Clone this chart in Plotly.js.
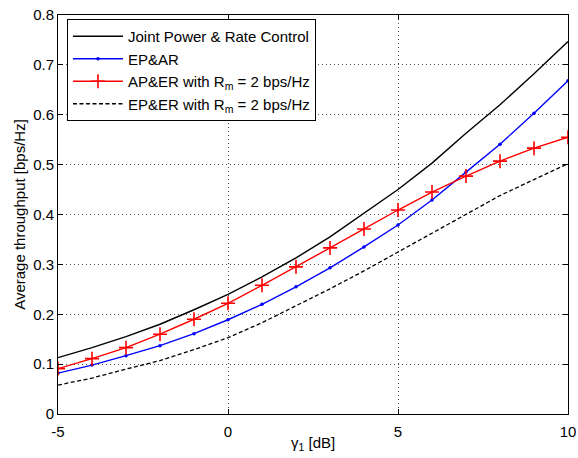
<!DOCTYPE html>
<html>
<head>
<meta charset="utf-8">
<script src="https://cdn.plot.ly/plotly-3.0.1.min.js"></script>
<style>html,body{margin:0;padding:0;background:#fff;}#chart{width:578px;height:458px;}</style>
</head>
<body>
<div id="chart"></div>
<script>
const gammaDb = [-5,-4,-3,-2,-1,0,1,2,3,4,5,6,7,8,9,10];
const jointPRC = [0.113,0.133,0.155,0.180,0.209,0.240,0.275,0.313,0.355,0.403,0.450,0.503,0.563,0.620,0.682,0.747];
const epAR = [0.082,0.098,0.117,0.137,0.161,0.189,0.220,0.255,0.293,0.335,0.379,0.429,0.485,0.541,0.603,0.668];
const apER = [0.091,0.111,0.133,0.160,0.190,0.222,0.258,0.295,0.333,0.371,0.409,0.445,0.477,0.507,0.533,0.555];
const epER = [0.058,0.072,0.090,0.107,0.129,0.153,0.183,0.217,0.251,0.287,0.325,0.363,0.401,0.438,0.470,0.502];
const names = ["Joint Power &amp; Rate Control","EP&amp;AR","AP&amp;ER with R<sub>m</sub> = 2 bps/Hz","EP&amp;ER with R<sub>m</sub> = 2 bps/Hz"];
const xTicks = [-5,0,5,10];
const yTicks = [0,0.1,0.2,0.3,0.4,0.5,0.6,0.7,0.8];

const font = {family:"Liberation Sans, Arial, sans-serif", size:15, color:"#000"};
const traces = [
  {x:gammaDb, y:jointPRC, name:names[0], mode:"lines", line:{color:"#000", width:1.4}},
  {x:gammaDb, y:epAR, name:names[1], mode:"lines+markers", line:{color:"#0000ff", width:1.4}, marker:{symbol:"circle", size:3.5, color:"#0000ff"}},
  {x:gammaDb, y:apER, name:names[2], mode:"lines+markers", line:{color:"#ff0000", width:1.4}, marker:{symbol:"cross-thin", size:10, line:{color:"#ff0000", width:1.6}}},
  {x:gammaDb, y:epER, name:names[3], mode:"lines", line:{color:"#000", width:1.3, dash:"4px,2.5px"}}
];
const layout = {
  width:578, height:458,
  margin:{l:58, r:10, t:15, b:44},
  paper_bgcolor:"#fff", plot_bgcolor:"#fff",
  font:font,
  showlegend:true,
  legend:{x:0.0176, y:0.99, xanchor:"left", yanchor:"top", bgcolor:"#fff", bordercolor:"#000", borderwidth:1, font:font, tracegroupgap:0, itemwidth:50},
  xaxis:{range:[-5,10], tickvals:xTicks, ticktext:xTicks.map(String), ticks:"inside", ticklen:5, tickcolor:"#000",
    showline:true, linecolor:"#000", linewidth:1, mirror:"ticks", showgrid:true, gridcolor:"#555", griddash:"1px,3px", gridwidth:1,
    zeroline:false, tickfont:font, ticklabelstandoff:4},
  yaxis:{range:[0,0.8], tickvals:yTicks, ticktext:yTicks.map(v=>v===0?"0":v.toFixed(1)), ticks:"inside", ticklen:5, tickcolor:"#000",
    showline:true, linecolor:"#000", linewidth:1, mirror:"ticks", showgrid:true, gridcolor:"#555", griddash:"1px,3px", gridwidth:1,
    zeroline:false, tickfont:font, title:{text:"Average throughput [bps/Hz]", font:font, standoff:3}},
  annotations:[
    {text:"γ<sub>1</sub> [dB]", xref:"paper", yref:"paper", x:0.5, y:-0.045, xanchor:"center", yanchor:"top", showarrow:false, font:font}
  ]
};
Plotly.newPlot("chart", traces, layout, {staticPlot:true, displayModeBar:false});
</script>
</body>
</html>
